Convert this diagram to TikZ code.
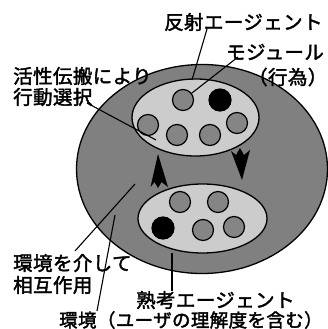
\documentclass[tikz,border=0pt]{standalone}
\usepackage{fontspec}
\newfontfamily\jp{Noto Sans CJK JP}[LetterSpace=2,FakeBold=2]
\tikzset{
  env/.style={draw=black, line width=1.3pt, fill=black!50},
  agent/.style={draw=black, line width=1.3pt, fill=black!20},
  mod/.style={draw=black, line width=1.2pt, fill=black!48, circle, minimum size=21pt, inner sep=0pt},
  modon/.style={draw=black, line width=1.2pt, fill=black, circle, minimum size=22pt, inner sep=0pt},
  lbl/.style={font=\jp\fontsize{19.5}{21}\selectfont, inner sep=0pt},
  lead/.style={line width=1.1pt, black},
  arr/.style={fill=black, draw=none}
}
\begin{document}
\begin{tikzpicture}[x=1pt,y=-1pt]
\useasboundingbox (0,0) rectangle (328,329);
% environment
\draw[env] (202,169) ellipse [x radius=125.5, y radius=104.5];
\coordinate (envpt) at (115,215);
% agents
\draw[agent] (195.5,117.5) ellipse [x radius=63.5, y radius=38.5];
\draw[agent] (202.5,218.5) ellipse [x radius=64.5, y radius=34.5];
\coordinate (reftop) at (192,80);
\coordinate (delbot) at (172,253);
\coordinate (actpt) at (156,140);
% modules upper
\node[mod] (m1) at (183,100) {};
\node[modon] (m2) at (220,100) {};
\node[mod] (m3) at (148,125) {};
\node[mod] (m4) at (177,135) {};
\node[mod] (m5) at (210,135) {};
\node[mod] (m6) at (237,123) {};
% modules lower
\node[mod] (n1) at (180,202) {};
\node[mod] (n2) at (218,202) {};
\node[modon] (n3) at (163,228) {};
\node[mod] (n4) at (203,230) {};
\node[mod] (n5) at (234,227) {};
% arrows
\fill[arr] (158,154) -- (168,187) -- (161.5,182) -- (158,188) -- (154.5,182) -- (150.5,187) -- cycle;
\fill[arr] (242,180) -- (231,151) -- (236,155) -- (240,148) -- (244,155) -- (250,150) -- cycle;
% labels
\node[lbl, anchor=west] (lref) at (164,22) {反射エージェント};
\node[lbl, anchor=west] (lmod) at (226,52) {モジュール};
\node[lbl, anchor=east] (lact) at (327.5,77) {（行為）};
\node[lbl, anchor=west] (lspr) at (13,76) {活性伝搬により};
\node[lbl, anchor=west] (lsel) at (13,97) {行動選択};
\node[lbl, anchor=west] (lint) at (13,263) {環境を介して};
\node[lbl, anchor=west] (lmut) at (13,285) {相互作用};
\node[lbl, anchor=west] (ldel) at (136,300) {熟考エージェント};
\node[lbl, anchor=west, font=\jp\fontsize{18.5}{20}\selectfont] (lenv) at (59,320) {環境（ユーザの理解度を含む）};
% leaders
\draw[lead] (207,29) -- (reftop);
\draw[lead] (238,57) -- (m1);
\draw[lead] (87,103) -- (actpt);
\draw[lead] (75,251) -- (135,184);
\draw[lead] (97,311) -- (envpt);
\draw[lead] (172,291) -- (delbot);
\end{tikzpicture}
\end{document}
